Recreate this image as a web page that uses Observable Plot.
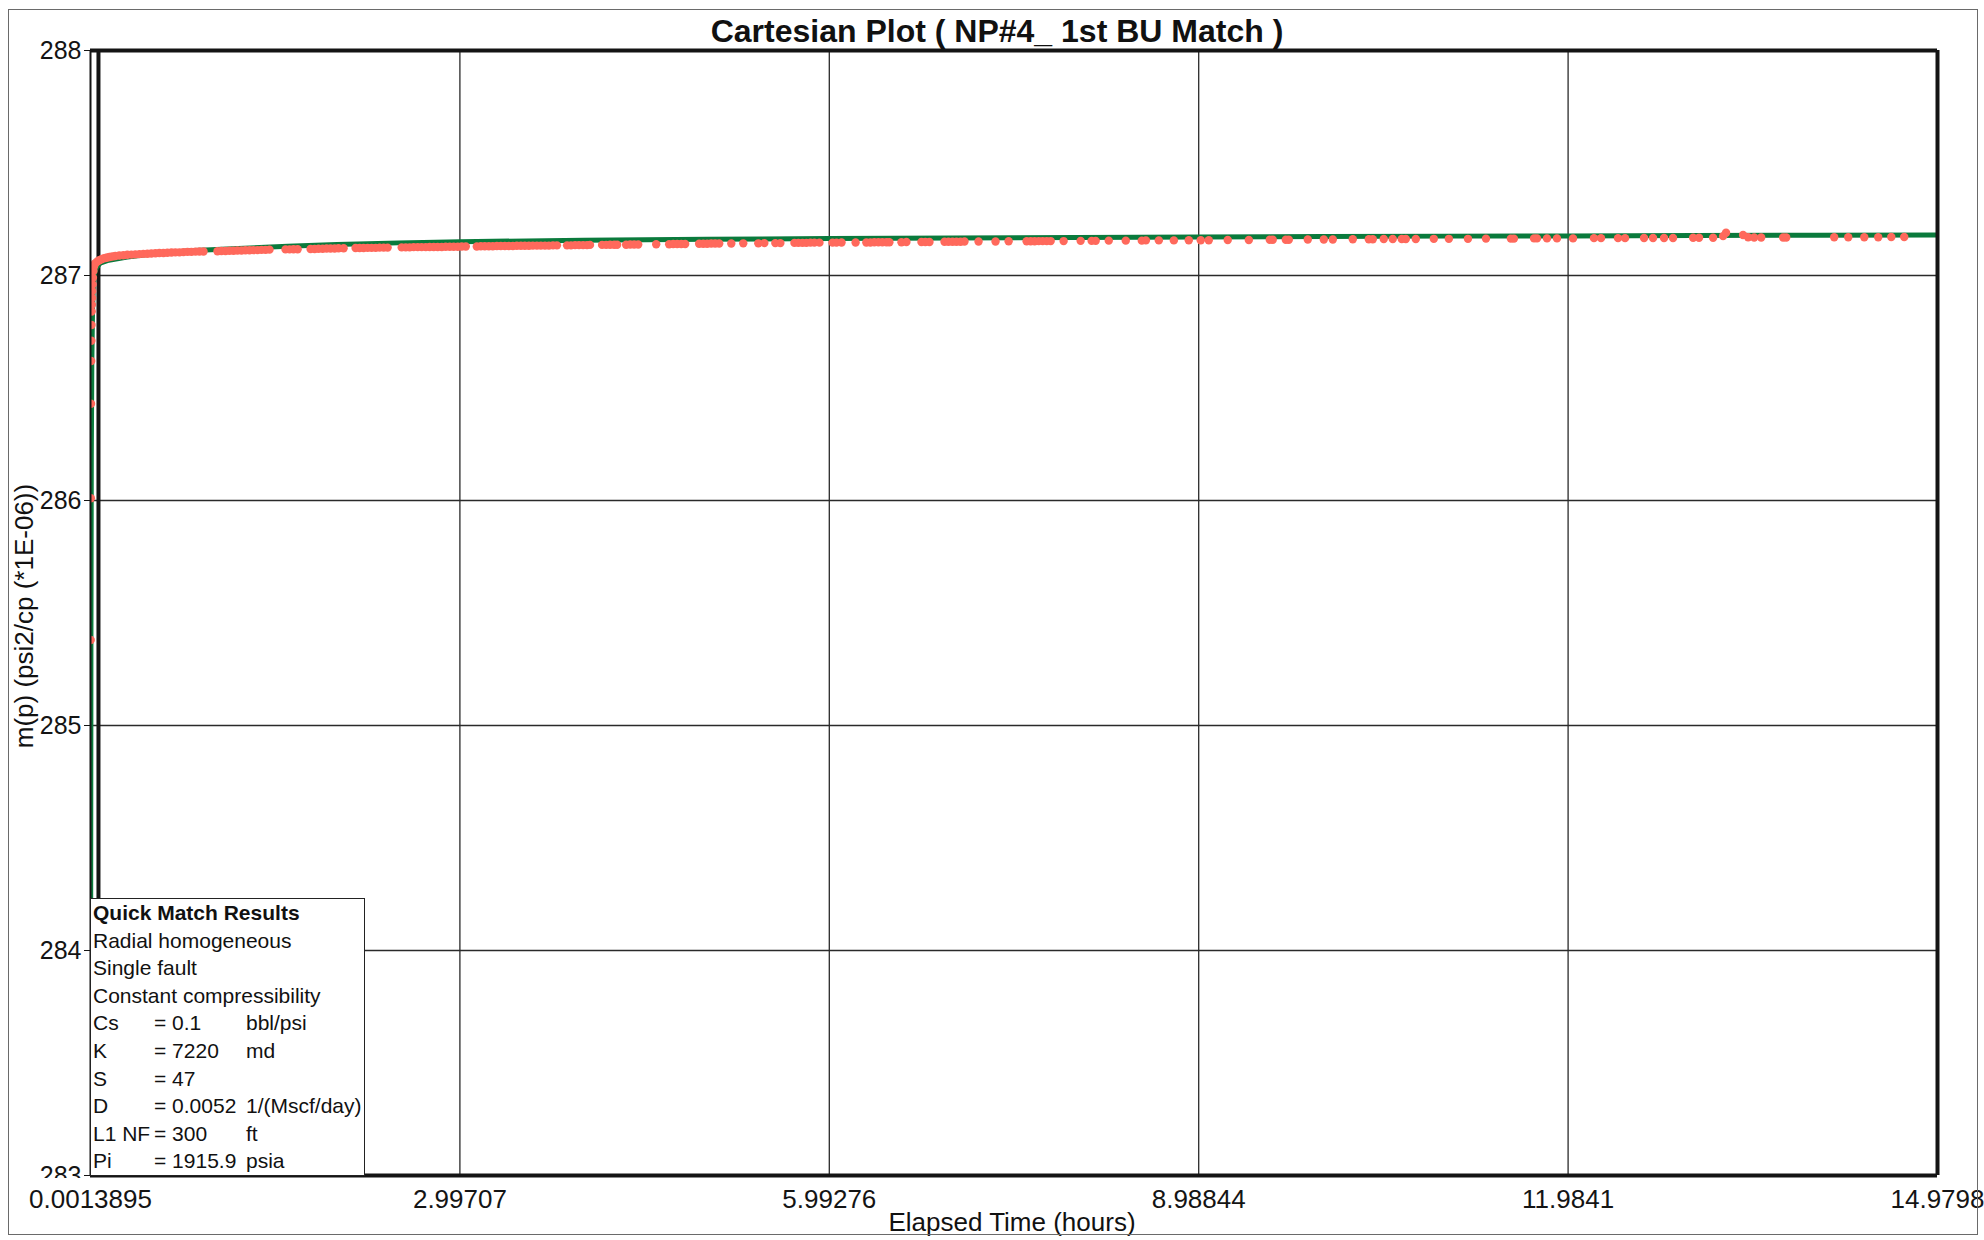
<!DOCTYPE html>
<html>
<head>
<meta charset="utf-8">
<script src="https://cdn.jsdelivr.net/npm/d3@7"></script>
<script src="https://cdn.jsdelivr.net/npm/@observablehq/plot@0.6"></script>
<style>
  html, body { margin: 0; padding: 0; background: #fff; }
  body { font-family: "Liberation Sans", Arial, Helvetica, sans-serif; color: #111; }
  #page { position: relative; width: 1984px; height: 1240px; overflow: hidden; background: #fff; }
  #chart { position: absolute; left: 0; top: 0; }
  #border { position: absolute; left: 8px; top: 9px; width: 1970px; height: 1226px; border: 1.5px solid #6a6a6a; box-sizing: border-box; pointer-events: none; }
  #title { position: absolute; left: 0; width: 1994px; top: 15px; text-align: center; font-weight: bold; font-size: 32px; line-height: 1; white-space: nowrap; }
  #xlabel { position: absolute; left: 0; width: 2024px; top: 1209px; text-align: center; font-size: 26px; line-height: 1; white-space: nowrap; }
  #ylabel { position: absolute; left: 24px; top: 616px; font-size: 26px; line-height: 1; white-space: nowrap; transform: translate(-50%, -50%) rotate(-90deg); }
  #cover283 { position: absolute; left: 36px; top: 1178px; width: 50px; height: 10px; background: #fff; }
  #legend { position: absolute; left: 90px; top: 898px; width: 275px; height: 278px; box-sizing: border-box; border: 1.5px solid #222; background: #fff; padding: 0 0 0 2px; font-size: 21px; }
  #legend .row { position: relative; height: 27.6px; line-height: 27.6px; white-space: nowrap; }
  #legend .row.bold { font-weight: bold; }
  #legend .c2 { position: absolute; left: 61px; top: 0; }
  #legend .c3 { position: absolute; left: 153px; top: 0; }
</style>
</head>
<body>
<div id="page">
  <div id="chart"></div>
  <div id="cover283"></div>
  <div id="legend"></div>
  <div id="title"></div>
  <div id="xlabel"></div>
  <div id="ylabel"></div>
  <div id="border"></div>
</div>
<script>
// ---------- texts ----------
const chartTitle = "Cartesian Plot ( NP#4_ 1st BU Match )";
const xAxisLabel = "Elapsed Time (hours)";
const yAxisLabel = "m(p) (psi2/cp (*1E-06))";

// ---------- axes ----------
const xTicks = [0.0013895, 2.99707, 5.99276, 8.98844, 11.9841, 14.9798];
const xTickLabels = ["0.0013895", "2.99707", "5.99276", "8.98844", "11.9841", "14.9798"];
const yTicks = [283, 284, 285, 286, 287, 288];
const yTickLabels = ["283", "284", "285", "286", "287", "288"];

// vertical marker line (start of build-up analysis window), hours
const markerHours = [0.066];

// ---------- model (green line) ----------
const modelHours = [0.0013895, 0.003, 0.005, 0.008, 0.012, 0.018, 0.025, 0.035, 0.05, 0.08,
  0.15, 0.3, 0.5, 0.8, 1.2, 1.6, 2.0, 2.5, 3.0, 4.0, 5.0, 6.0, 7.0, 8.0, 9.0, 10.0,
  11.0, 12.0, 13.0, 14.0, 14.9798];
const modelMp = [283.0, 284.3, 285.4, 286.2, 286.6, 286.85, 286.96, 287.01, 287.035, 287.055,
  287.068, 287.082, 287.095, 287.11, 287.12, 287.13, 287.138, 287.145, 287.15, 287.157, 287.161, 287.164, 287.167, 287.169, 287.171, 287.173,
  287.175, 287.176, 287.178, 287.179, 287.18];

// ---------- observed data (red dots): [hours, m(p)] ----------
const observed = [
  [0.0028, 285.38], [0.0042, 286.01], [0.0056, 286.43], [0.0069, 286.62], [0.0083, 286.71],
  [0.0097, 286.78], [0.0111, 286.84], [0.0125, 286.87], [0.0139, 286.90], [0.0153, 286.93],
  [0.018, 286.96], [0.021, 286.99], [0.025, 287.02], [0.03, 287.04], [0.035, 287.05],
  [0.041, 287.055], [0.057, 287.062], [0.073, 287.068], [0.09, 287.072], [0.106, 287.076],
  [0.122, 287.078], [0.138, 287.08], [0.155, 287.082], [0.171, 287.084], [0.187, 287.085],
  [0.203, 287.087], [0.235, 287.089], [0.268, 287.09], [0.300, 287.092], [0.333, 287.093],
  [0.365, 287.094], [0.398, 287.095], [0.430, 287.096], [0.463, 287.097], [0.495, 287.098],
  [0.528, 287.099], [0.560, 287.1], [0.593, 287.1], [0.625, 287.101], [0.658, 287.102],
  [0.690, 287.103], [0.723, 287.103], [0.755, 287.104], [0.788, 287.105], [0.820, 287.105],
  [0.853, 287.106], [0.885, 287.107], [0.918, 287.107],
  [1.031, 287.108], [1.063, 287.109], [1.096, 287.109], [1.128, 287.11], [1.161, 287.11],
  [1.193, 287.111], [1.226, 287.111], [1.258, 287.112], [1.291, 287.112], [1.323, 287.113],
  [1.356, 287.113], [1.388, 287.114], [1.421, 287.114], [1.453, 287.115],
  [1.583, 287.116], [1.616, 287.116], [1.648, 287.117], [1.681, 287.117],
  [1.786, 287.118], [1.819, 287.118], [1.851, 287.119], [1.884, 287.119], [1.916, 287.12],
  [1.948, 287.12], [1.981, 287.12], [2.013, 287.121], [2.054, 287.121],
  [2.151, 287.122], [2.184, 287.122], [2.216, 287.122], [2.249, 287.123], [2.281, 287.123],
  [2.314, 287.123], [2.346, 287.124], [2.379, 287.124], [2.411, 287.124],
  [2.525, 287.125], [2.558, 287.125], [2.590, 287.125], [2.622, 287.126], [2.655, 287.126],
  [2.687, 287.126], [2.720, 287.126], [2.752, 287.127], [2.785, 287.127], [2.817, 287.127],
  [2.850, 287.127], [2.882, 287.128], [2.915, 287.128], [2.947, 287.128], [2.980, 287.128],
  [3.012, 287.129], [3.045, 287.129],
  [3.134, 287.129], [3.167, 287.13], [3.199, 287.13], [3.232, 287.13], [3.264, 287.13],
  [3.297, 287.131], [3.329, 287.131], [3.362, 287.131], [3.394, 287.131], [3.427, 287.131],
  [3.459, 287.132], [3.492, 287.132], [3.524, 287.132], [3.557, 287.132], [3.589, 287.133],
  [3.622, 287.133], [3.654, 287.133], [3.687, 287.133], [3.719, 287.133], [3.752, 287.134],
  [3.784, 287.134],
  [3.866, 287.134], [3.898, 287.134], [3.931, 287.135], [3.963, 287.135], [3.996, 287.135],
  [4.028, 287.135], [4.052, 287.136],
  [4.150, 287.136], [4.183, 287.136], [4.215, 287.137], [4.248, 287.137], [4.272, 287.137],
  [4.345, 287.137], [4.378, 287.138], [4.410, 287.138], [4.443, 287.138],
  [4.589, 287.139],
  [4.694, 287.139], [4.727, 287.14], [4.759, 287.14], [4.792, 287.14], [4.824, 287.14],
  [4.937, 287.141], [4.970, 287.141], [5.002, 287.141], [5.035, 287.142], [5.067, 287.142], [5.100, 287.142],
  [5.198, 287.142], [5.295, 287.143], [5.417, 287.143], [5.466, 287.144], [5.555, 287.144], [5.596, 287.144],
  [5.710, 287.145], [5.742, 287.145], [5.775, 287.145], [5.807, 287.145], [5.840, 287.146],
  [5.872, 287.146], [5.913, 287.146],
  [6.019, 287.146], [6.051, 287.146], [6.092, 287.147], [6.206, 287.147],
  [6.293, 287.147], [6.326, 287.147], [6.358, 287.148], [6.391, 287.148], [6.423, 287.148],
  [6.456, 287.148], [6.480, 287.148],
  [6.578, 287.148], [6.618, 287.149], [6.740, 287.149], [6.772, 287.149], [6.805, 287.149],
  [6.927, 287.15], [6.959, 287.15], [6.992, 287.15], [7.024, 287.15], [7.057, 287.15], [7.089, 287.151],
  [7.203, 287.151], [7.341, 287.151], [7.447, 287.152],
  [7.593, 287.152], [7.626, 287.152], [7.658, 287.152], [7.691, 287.153], [7.723, 287.153],
  [7.756, 287.153], [7.788, 287.153],
  [7.893, 287.153], [8.031, 287.154], [8.120, 287.154], [8.153, 287.154], [8.259, 287.155],
  [8.397, 287.155], [8.527, 287.155], [8.560, 287.156], [8.665, 287.156], [8.787, 287.156],
  [8.908, 287.157], [9.005, 287.157], [9.070, 287.157], [9.224, 287.158], [9.395, 287.158],
  [9.565, 287.159], [9.589, 287.159], [9.695, 287.159], [9.719, 287.159], [9.873, 287.16],
  [10.003, 287.16], [10.076, 287.16], [10.238, 287.161], [10.368, 287.161], [10.400, 287.161],
  [10.489, 287.162], [10.562, 287.162], [10.635, 287.162], [10.668, 287.162], [10.749, 287.162],
  [10.895, 287.163], [11.017, 287.163], [11.172, 287.163], [11.318, 287.164], [11.520, 287.164],
  [11.545, 287.164], [11.708, 287.165], [11.732, 287.165], [11.813, 287.165], [11.894, 287.165],
  [12.024, 287.165], [12.194, 287.166], [12.251, 287.166], [12.389, 287.166], [12.446, 287.166],
  [12.600, 287.167], [12.673, 287.167], [12.762, 287.167], [12.835, 287.167], [12.998, 287.168],
  [13.046, 287.168], [13.160, 287.168], [13.241, 287.175], [13.265, 287.19], [13.403, 287.18],
  [13.444, 287.17], [13.493, 287.169], [13.550, 287.169], [13.728, 287.169], [13.753, 287.169],
  [14.142, 287.17], [14.256, 287.17], [14.386, 287.17], [14.499, 287.17], [14.605, 287.171],
  [14.710, 287.171]
];

// ---------- legend text ----------
const legendTitle = "Quick Match Results";
const legendModel = ["Radial homogeneous", "Single fault", "Constant compressibility"];
const legendParams = ["Cs", "K", "S", "D", "L1 NF", "Pi"];
const legendValues = ["= 0.1", "= 7220", "= 47", "= 0.0052", "= 300", "= 1915.9"];
const legendUnits = ["bbl/psi", "md", "", "1/(Mscf/day)", "ft", "psia"];

// ---------- colours ----------
const modelColor = "#0a7a3c";
const dataColor = "#ff695c";
const inkColor = "#141414";

const model = modelHours.map((t, i) => ({t, m: modelMp[i]}));
const xMin = xTicks[0], xMax = xTicks[xTicks.length - 1];
const yMin = yTicks[0], yMax = yTicks[yTicks.length - 1];

const chart = Plot.plot({
  width: 1984,
  height: 1240,
  marginLeft: 90,
  marginRight: 47,
  marginTop: 50,
  marginBottom: 65,
  style: {fontFamily: '"Liberation Sans", Arial, Helvetica, sans-serif', color: inkColor, background: "transparent", overflow: "visible"},
  x: {domain: [xMin, xMax]},
  y: {domain: [yMin, yMax]},
  marks: [
    Plot.gridX(xTicks.slice(1, -1), {stroke: "#2a2a2a", strokeOpacity: 1, strokeWidth: 1.3}),
    Plot.gridY(yTicks.slice(1, -1), {stroke: "#2a2a2a", strokeOpacity: 1, strokeWidth: 1.3}),
    Plot.ruleX(markerHours, {stroke: inkColor, strokeWidth: 4}),
    Plot.line(model, {x: "t", y: "m", stroke: modelColor, strokeWidth: 5, clip: true}),
    Plot.dot(observed, {x: d => d[0], y: d => d[1], r: 4.2, fill: dataColor, stroke: "none", clip: true}),
    Plot.ruleY([yMax], {stroke: inkColor, strokeWidth: 4}),
    Plot.ruleY([yMin], {stroke: inkColor, strokeWidth: 4}),
    Plot.ruleX([xMax], {stroke: inkColor, strokeWidth: 4}),
    Plot.ruleX([xMin], {stroke: inkColor, strokeWidth: 2}),
    Plot.axisX(xTicks, {tickSize: 0, tickPadding: 14, fontSize: 26, label: null,
      tickFormat: d => xTickLabels[xTicks.indexOf(d)]}),
    Plot.axisY(yTicks, {tickSize: 6, tickPadding: 3, fontSize: 25, label: null, stroke: inkColor,
      tickFormat: d => yTickLabels[yTicks.indexOf(d)]})
  ]
});
document.getElementById("chart").appendChild(chart);

document.getElementById("title").textContent = chartTitle;
document.getElementById("xlabel").textContent = xAxisLabel;
document.getElementById("ylabel").textContent = yAxisLabel;

const legend = document.getElementById("legend");
function addRow(cls, a, b, c) {
  const row = document.createElement("div");
  row.className = "row" + (cls ? " " + cls : "");
  const s1 = document.createElement("span"); s1.textContent = a; row.appendChild(s1);
  if (b !== undefined) {
    const s2 = document.createElement("span"); s2.className = "c2"; s2.textContent = b; row.appendChild(s2);
    const s3 = document.createElement("span"); s3.className = "c3"; s3.textContent = c; row.appendChild(s3);
  }
  legend.appendChild(row);
}
addRow("bold", legendTitle);
legendModel.forEach(s => addRow("", s));
legendParams.forEach((p, i) => addRow("", p, legendValues[i], legendUnits[i]));
</script>
</body>
</html>
